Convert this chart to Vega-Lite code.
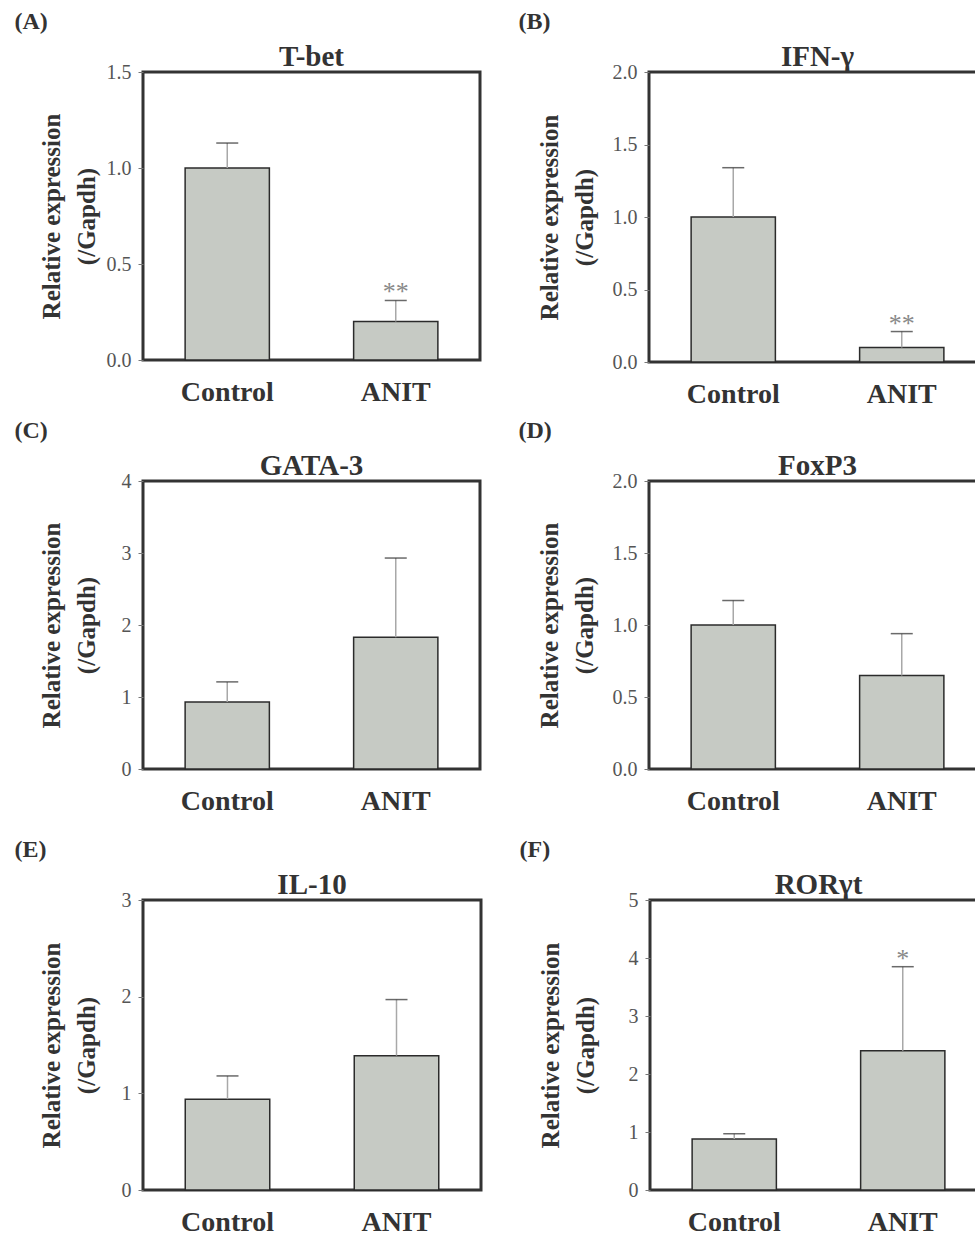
{
  "$schema": "https://vega.github.io/schema/vega-lite/v6.json",
  "background": "white",
  "padding": {"left": 14, "top": 9, "right": 0, "bottom": 0},
  "datasets": {
    "expr": [
      {"panel": "A", "group": "Control", "value": 1.0, "upper": 1.13, "sig": ""},
      {"panel": "A", "group": "ANIT", "value": 0.2, "upper": 0.31, "sig": "**"},
      {"panel": "B", "group": "Control", "value": 1.0, "upper": 1.34, "sig": ""},
      {"panel": "B", "group": "ANIT", "value": 0.1, "upper": 0.21, "sig": "**"},
      {"panel": "C", "group": "Control", "value": 0.93, "upper": 1.21, "sig": ""},
      {"panel": "C", "group": "ANIT", "value": 1.83, "upper": 2.93, "sig": ""},
      {"panel": "D", "group": "Control", "value": 1.0, "upper": 1.17, "sig": ""},
      {"panel": "D", "group": "ANIT", "value": 0.65, "upper": 0.94, "sig": ""},
      {"panel": "E", "group": "Control", "value": 0.94, "upper": 1.18, "sig": ""},
      {"panel": "E", "group": "ANIT", "value": 1.39, "upper": 1.97, "sig": ""},
      {"panel": "F", "group": "Control", "value": 0.88, "upper": 0.97, "sig": ""},
      {"panel": "F", "group": "ANIT", "value": 2.4, "upper": 3.85, "sig": "*"}
    ]
  },
  "data": {"name": "expr"},
  "spacing": 20,
  "vconcat": [
    {"spacing": 8, "vconcat": [
    {"spacing": 36, "hconcat": [
      {"title": {"text": "(A)", "anchor": "start", "frame": "bounds", "fontSize": 24, "dx": -23, "offset": 8}, "vconcat": [{
        "width": 337, "height": 288, "title": {"text": "T-bet", "frame": "group", "offset": -10},
        "transform": [{"filter": "datum.panel == 'A'"}],
        "encoding": {"x": {"field": "group", "type": "nominal", "sort": ["Control", "ANIT"], "scale": {"paddingInner": 0.5, "paddingOuter": 0.25}, "axis": {"title": null}}},
        "layer": [
          {"mark": {"type": "bar", "fill": "#c6cac4", "stroke": "#2b2b2b", "strokeWidth": 1.5}, "encoding": {"y": {"field": "value", "type": "quantitative", "scale": {"domain": [0, 1.5], "nice": false}, "axis": {"values": [0, 0.5, 1, 1.5], "format": ".1f", "title": ["Relative expression", "(/Gapdh)"], "titleX": -92}}}},
          {"mark": {"type": "rule", "color": "#a8a8a8", "strokeWidth": 1.5}, "encoding": {"y": {"field": "value", "type": "quantitative", "scale": {"domain": [0, 1.5], "nice": false}}, "y2": {"field": "upper"}}},
          {"mark": {"type": "tick", "color": "#2b2b2b", "thickness": 1.5, "size": 22}, "encoding": {"y": {"field": "upper", "type": "quantitative", "scale": {"domain": [0, 1.5], "nice": false}}}},
          {"mark": {"type": "text", "baseline": "alphabetic", "dy": 0, "fontSize": 26, "color": "#888"}, "encoding": {"y": {"field": "upper", "type": "quantitative", "scale": {"domain": [0, 1.5], "nice": false}}, "text": {"field": "sig"}}}
        ]
      }]},
      {"title": {"text": "(B)", "anchor": "start", "frame": "bounds", "fontSize": 24, "dx": -17, "offset": 8}, "vconcat": [{
        "width": 337, "height": 290, "title": {"text": "IFN-γ", "frame": "group", "offset": -10},
        "transform": [{"filter": "datum.panel == 'B'"}],
        "encoding": {"x": {"field": "group", "type": "nominal", "sort": ["Control", "ANIT"], "scale": {"paddingInner": 0.5, "paddingOuter": 0.25}, "axis": {"title": null}}},
        "layer": [
          {"mark": {"type": "bar", "fill": "#c6cac4", "stroke": "#2b2b2b", "strokeWidth": 1.5}, "encoding": {"y": {"field": "value", "type": "quantitative", "scale": {"domain": [0, 2], "nice": false}, "axis": {"values": [0, 0.5, 1, 1.5, 2], "format": ".1f", "title": ["Relative expression", "(/Gapdh)"], "titleX": -100}}}},
          {"mark": {"type": "rule", "color": "#a8a8a8", "strokeWidth": 1.5}, "encoding": {"y": {"field": "value", "type": "quantitative", "scale": {"domain": [0, 2], "nice": false}}, "y2": {"field": "upper"}}},
          {"mark": {"type": "tick", "color": "#2b2b2b", "thickness": 1.5, "size": 22}, "encoding": {"y": {"field": "upper", "type": "quantitative", "scale": {"domain": [0, 2], "nice": false}}}},
          {"mark": {"type": "text", "baseline": "alphabetic", "dy": 0, "fontSize": 26, "color": "#888"}, "encoding": {"y": {"field": "upper", "type": "quantitative", "scale": {"domain": [0, 2], "nice": false}}, "text": {"field": "sig"}}}
        ]
      }]}
    ]},
    {"spacing": 36, "hconcat": [
      {"title": {"text": "(C)", "anchor": "start", "frame": "bounds", "fontSize": 24, "dx": -23, "offset": 8}, "vconcat": [{
        "width": 337, "height": 288, "title": {"text": "GATA-3", "frame": "group", "offset": -10},
        "transform": [{"filter": "datum.panel == 'C'"}],
        "encoding": {"x": {"field": "group", "type": "nominal", "sort": ["Control", "ANIT"], "scale": {"paddingInner": 0.5, "paddingOuter": 0.25}, "axis": {"title": null}}},
        "layer": [
          {"mark": {"type": "bar", "fill": "#c6cac4", "stroke": "#2b2b2b", "strokeWidth": 1.5}, "encoding": {"y": {"field": "value", "type": "quantitative", "scale": {"domain": [0, 4], "nice": false}, "axis": {"values": [0, 1, 2, 3, 4], "format": "d", "title": ["Relative expression", "(/Gapdh)"], "titleX": -92}}}},
          {"mark": {"type": "rule", "color": "#a8a8a8", "strokeWidth": 1.5}, "encoding": {"y": {"field": "value", "type": "quantitative", "scale": {"domain": [0, 4], "nice": false}}, "y2": {"field": "upper"}}},
          {"mark": {"type": "tick", "color": "#2b2b2b", "thickness": 1.5, "size": 22}, "encoding": {"y": {"field": "upper", "type": "quantitative", "scale": {"domain": [0, 4], "nice": false}}}}
        ]
      }]},
      {"title": {"text": "(D)", "anchor": "start", "frame": "bounds", "fontSize": 24, "dx": -17, "offset": 8}, "vconcat": [{
        "width": 337, "height": 288, "title": {"text": "FoxP3", "frame": "group", "offset": -10},
        "transform": [{"filter": "datum.panel == 'D'"}],
        "encoding": {"x": {"field": "group", "type": "nominal", "sort": ["Control", "ANIT"], "scale": {"paddingInner": 0.5, "paddingOuter": 0.25}, "axis": {"title": null}}},
        "layer": [
          {"mark": {"type": "bar", "fill": "#c6cac4", "stroke": "#2b2b2b", "strokeWidth": 1.5}, "encoding": {"y": {"field": "value", "type": "quantitative", "scale": {"domain": [0, 2], "nice": false}, "axis": {"values": [0, 0.5, 1, 1.5, 2], "format": ".1f", "title": ["Relative expression", "(/Gapdh)"], "titleX": -100}}}},
          {"mark": {"type": "rule", "color": "#a8a8a8", "strokeWidth": 1.5}, "encoding": {"y": {"field": "value", "type": "quantitative", "scale": {"domain": [0, 2], "nice": false}}, "y2": {"field": "upper"}}},
          {"mark": {"type": "tick", "color": "#2b2b2b", "thickness": 1.5, "size": 22}, "encoding": {"y": {"field": "upper", "type": "quantitative", "scale": {"domain": [0, 2], "nice": false}}}}
        ]
      }]}
    ]}
    ]},
    {"spacing": 36, "hconcat": [
      {"title": {"text": "(E)", "anchor": "start", "frame": "bounds", "fontSize": 24, "dx": -23, "offset": 8}, "vconcat": [{
        "width": 338, "height": 290, "title": {"text": "IL-10", "frame": "group", "offset": -10},
        "transform": [{"filter": "datum.panel == 'E'"}],
        "encoding": {"x": {"field": "group", "type": "nominal", "sort": ["Control", "ANIT"], "scale": {"paddingInner": 0.5, "paddingOuter": 0.25}, "axis": {"title": null}}},
        "layer": [
          {"mark": {"type": "bar", "fill": "#c6cac4", "stroke": "#2b2b2b", "strokeWidth": 1.5}, "encoding": {"y": {"field": "value", "type": "quantitative", "scale": {"domain": [0, 3], "nice": false}, "axis": {"values": [0, 1, 2, 3], "format": "d", "title": ["Relative expression", "(/Gapdh)"], "titleX": -92}}}},
          {"mark": {"type": "rule", "color": "#a8a8a8", "strokeWidth": 1.5}, "encoding": {"y": {"field": "value", "type": "quantitative", "scale": {"domain": [0, 3], "nice": false}}, "y2": {"field": "upper"}}},
          {"mark": {"type": "tick", "color": "#2b2b2b", "thickness": 1.5, "size": 22}, "encoding": {"y": {"field": "upper", "type": "quantitative", "scale": {"domain": [0, 3], "nice": false}}}}
        ]
      }]},
      {"title": {"text": "(F)", "anchor": "start", "frame": "bounds", "fontSize": 24, "dx": -17, "offset": 8}, "vconcat": [{
        "width": 337, "height": 290, "title": {"text": "RORγt", "frame": "group", "offset": -10},
        "transform": [{"filter": "datum.panel == 'F'"}],
        "encoding": {"x": {"field": "group", "type": "nominal", "sort": ["Control", "ANIT"], "scale": {"paddingInner": 0.5, "paddingOuter": 0.25}, "axis": {"title": null}}},
        "layer": [
          {"mark": {"type": "bar", "fill": "#c6cac4", "stroke": "#2b2b2b", "strokeWidth": 1.5}, "encoding": {"y": {"field": "value", "type": "quantitative", "scale": {"domain": [0, 5], "nice": false}, "axis": {"values": [0, 1, 2, 3, 4, 5], "format": "d", "title": ["Relative expression", "(/Gapdh)"], "titleX": -100}}}},
          {"mark": {"type": "rule", "color": "#a8a8a8", "strokeWidth": 1.5}, "encoding": {"y": {"field": "value", "type": "quantitative", "scale": {"domain": [0, 5], "nice": false}}, "y2": {"field": "upper"}}},
          {"mark": {"type": "tick", "color": "#2b2b2b", "thickness": 1.5, "size": 22}, "encoding": {"y": {"field": "upper", "type": "quantitative", "scale": {"domain": [0, 5], "nice": false}}}},
          {"mark": {"type": "text", "baseline": "alphabetic", "dy": 0, "fontSize": 26, "color": "#888"}, "encoding": {"y": {"field": "upper", "type": "quantitative", "scale": {"domain": [0, 5], "nice": false}}, "text": {"field": "sig"}}}
        ]
      }]}
    ]}
  ],
  "config": {
    "font": "Liberation Serif",
    "view": {"stroke": "#333", "strokeWidth": 3},
    "title": {"font": "Liberation Serif", "fontSize": 29, "fontWeight": "bold", "color": "#333"},
    "axisX": {"labelAngle": 0, "ticks": false, "domain": false, "grid": false, "labelFont": "Liberation Serif", "labelFontSize": 28, "labelFontWeight": "bold", "labelColor": "#333", "labelPadding": 18},
    "axisY": {"domain": false, "grid": false, "tickSize": 5, "tickColor": "#777", "labelFont": "Liberation Serif", "labelFontSize": 20, "labelColor": "#555", "labelPadding": 7, "titleFont": "Liberation Serif", "titleFontSize": 25, "titleFontWeight": "bold", "titleColor": "#333", "titleBaseline": "middle", "titleLineHeight": 35}
  }
}
